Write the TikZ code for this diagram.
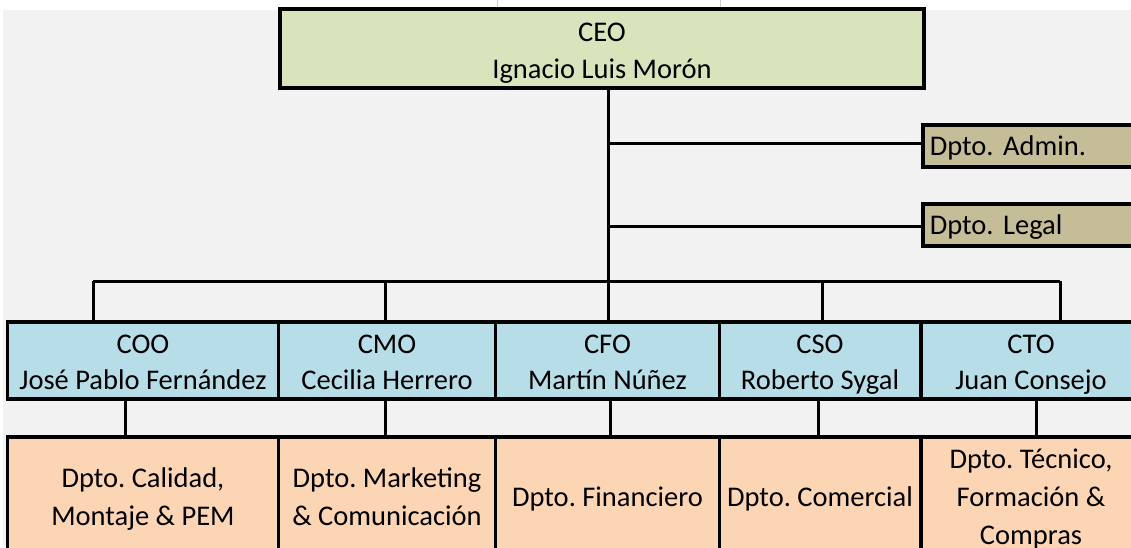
\documentclass[tikz,border=0pt]{standalone}
\usepackage{fontspec}
\setmainfont{Carlito}
\frenchspacing
\newcommand\myHs[1]{\rule{0pt}{#1pt}}
\definecolor{bggray}{HTML}{F2F2F2}
\definecolor{ceofill}{HTML}{D8E4BC}
\definecolor{admfill}{HTML}{C4BD97}
\definecolor{cfill}{HTML}{B7DEE8}
\definecolor{dfill}{HTML}{FCD5B4}
\begin{document}
\begin{tikzpicture}[x=1pt,y=-1pt,
  dstrut/.style={execute at end node={\vrule width 0pt height 0pt depth #1pt}},
  box/.style={draw=black, line width=3.5pt, rectangle, inner sep=0pt, align=center, dstrut=10},
  ceobox/.style={box, fill=ceofill, minimum width=644pt, minimum height=76pt,
    font=\fontsize{28.5}{37}\selectfont},
  admbox/.style={box, fill=admfill, minimum height=42pt, text width=220pt, align=left,
    inner xsep=7pt, anchor=west, font=\fontsize{28.5}{36}\selectfont},
  cbox/.style={box, fill=cfill, minimum height=77pt,
    font=\fontsize{28.5}{36}\selectfont},
  dbox/.style={box, fill=dfill, minimum height=123pt,
    font=\fontsize{28.5}{38}\selectfont},
  conn/.style={line width=3pt, draw=black}]
\useasboundingbox (0,0) rectangle (1131,547);
\clip (0,0) rectangle (1131,547);
\fill[white] (0,0) rectangle (1131,547);
\fill[bggray] (3,10) rectangle (1131,547);
\draw[gray!40, line width=1pt] (497,0) -- (497,10) (720,0) -- (720,10);
% CEO
\node[ceobox] (ceo) at (602,48.5) {\myHs{32}CEO\\Ignacio Luis Morón};
% staff departments
\node[admbox] (adm) at (921,146) {\myHs{28}Dpto. Admin.};
\node[admbox] (leg) at (921,225) {\myHs{28}Dpto. Legal};
% C-level
\node[cbox, minimum width=271pt] (coo) at (143,360.5) {\myHs{31}COO\\José Pablo Fernández};
\node[cbox, minimum width=217pt] (cmo) at (387,360.5) {\myHs{31}CMO\\Cecilia Herrero};
\node[cbox, minimum width=224pt] (cfo) at (607.5,360.5) {\myHs{31}CFO\\Martín Núñez};
\node[cbox, minimum width=201pt] (cso) at (820,360.5) {\myHs{31}CSO\\Roberto Sygal};
\node[cbox, minimum width=220pt] (cto) at (1031,360.5) {\myHs{31}CTO\\Juan Consejo};
% Departments
\node[dbox, minimum width=271pt] (dcoo) at (143,498.5) {\myHs{25}Dpto. Calidad,\\Montaje \& PEM};
\node[dbox, minimum width=217pt] (dcmo) at (387,498.5) {\myHs{25}Dpto. Marketing\\\& Comunicación};
\node[dbox, minimum width=224pt] (dcfo) at (607.5,498.5) {\myHs{25}Dpto. Financiero};
\node[dbox, minimum width=201pt] (dcso) at (820,498.5) {\myHs{25}Dpto. Comercial};
\node[dbox, minimum width=220pt] (dcto) at (1031,498.5) {\myHs{25}Dpto. Técnico,\\Formación \&\\Compras};
% connector coordinates
\coordinate (ta) at (608,143);
\coordinate (tl) at (608,226);
\coordinate (tb) at (608,281);
\coordinate (b1) at (93,281);
\coordinate (b2) at (385,281);
\coordinate (b4) at (822,281);
\coordinate (b5) at (1060,281);
\coordinate (e1) at (125,398);
\coordinate (e2) at (385,398);
\coordinate (e3) at (610,398);
\coordinate (e4) at (818,398);
\coordinate (e5) at (1036,398);
% connectors
\draw[conn] (tb |- ceo.south) -- (tb);
\draw[conn] (ta) -- (ta -| adm.west);
\draw[conn] (tl) -- (tl -| leg.west);
\draw[conn] (b1) -- (b5);
\draw[conn] (b1) -- (b1 |- coo.north);
\draw[conn] (b2) -- (b2 |- cmo.north);
\draw[conn] (tb) -- (tb |- cfo.north);
\draw[conn] (b4) -- (b4 |- cso.north);
\draw[conn] (b5) -- (b5 |- cto.north);
\draw[conn] (e1 |- coo.south) -- (e1 |- dcoo.north);
\draw[conn] (e2 |- cmo.south) -- (e2 |- dcmo.north);
\draw[conn] (e3 |- cfo.south) -- (e3 |- dcfo.north);
\draw[conn] (e4 |- cso.south) -- (e4 |- dcso.north);
\draw[conn] (e5 |- cto.south) -- (e5 |- dcto.north);
\end{tikzpicture}
\end{document}
